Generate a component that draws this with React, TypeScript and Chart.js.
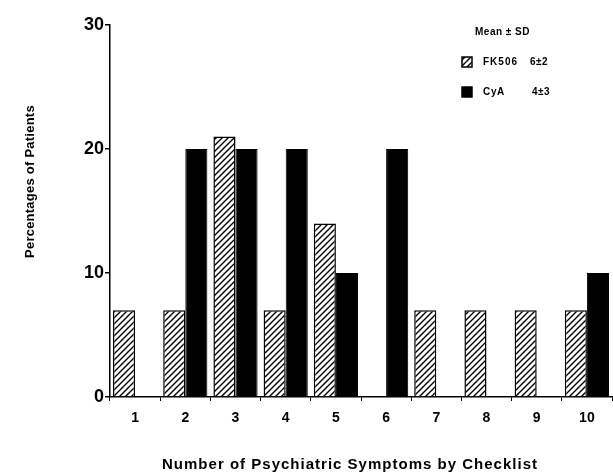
import React, { useEffect, useRef } from 'react';
import { Chart, registerables } from 'chart.js';

Chart.register(...registerables);

const categories = ['1', '2', '3', '4', '5', '6', '7', '8', '9', '10'];
const fk506Values = [7, 7, 21, 7, 14, 0, 7, 7, 7, 7];
const cyaValues = [0, 20, 20, 20, 10, 20, 0, 0, 0, 10];
const yTickValues = [0, 10, 20, 30];
const seriesNames = ['FK506', 'CyA'];
const seriesStats = ['6±2', '4±3'];
const legendHeader = 'Mean ± SD';
const xTitle = 'Number of Psychiatric Symptoms by Checklist';
const yTitle = 'Percentages of Patients';

const FONT = '"Liberation Sans", Arial, Helvetica, sans-serif';

function makeHatch(): CanvasPattern | string {
  const s = 6;
  const c = document.createElement('canvas');
  c.width = s;
  c.height = s;
  const g = c.getContext('2d');
  if (!g) return '#fff';
  g.fillStyle = '#fff';
  g.fillRect(0, 0, s, s);
  g.strokeStyle = '#000';
  g.lineWidth = 1.4;
  g.beginPath();
  g.moveTo(0, s);
  g.lineTo(s, 0);
  g.moveTo(-1, 1);
  g.lineTo(1, -1);
  g.moveTo(s - 1, s + 1);
  g.lineTo(s + 1, s - 1);
  g.stroke();
  return g.createPattern(c, 'repeat') || '#fff';
}

function drawFit(ctx: CanvasRenderingContext2D, text: string, x: number, y: number, width: number) {
  (ctx as any).letterSpacing = '0px';
  const w = ctx.measureText(text).width;
  const sp = (width - w) / Math.max(1, text.length);
  (ctx as any).letterSpacing = sp.toFixed(2) + 'px';
  ctx.textAlign = 'left';
  ctx.fillText(text, x, y);
  (ctx as any).letterSpacing = '0px';
}

export default function App() {
  const ref = useRef<HTMLCanvasElement | null>(null);

  useEffect(() => {
    document.body.style.margin = '0';
    const canvas = ref.current;
    if (!canvas) return;
    const hatch = makeHatch();

    const annotations = {
      id: 'annotations',
      afterDraw(chart: any) {
        const ctx = chart.ctx as CanvasRenderingContext2D;
        ctx.save();
        ctx.fillStyle = '#000';
        ctx.textBaseline = 'middle';
        // x title
        ctx.font = `bold 15px ${FONT}`;
        drawFit(ctx, xTitle, 162, 465, 376);
        // y title
        ctx.save();
        ctx.translate(30, 258);
        ctx.rotate(-Math.PI / 2);
        ctx.font = `bold 13px ${FONT}`;
        drawFit(ctx, yTitle, 0, 0, 153);
        ctx.restore();
        // legend
        ctx.font = `bold 10px ${FONT}`;
        drawFit(ctx, legendHeader, 475, 32, 55);
        const rows = [62, 92];
        const fills = [hatch, '#000'];
        const nameW = [35, 22];
        for (let i = 0; i < seriesNames.length; i++) {
          const y = rows[i];
          ctx.fillStyle = fills[i] as any;
          ctx.fillRect(462, y - 5, 10, 10);
          ctx.strokeStyle = '#000';
          ctx.lineWidth = 1.5;
          ctx.strokeRect(462, y - 5, 10, 10);
          ctx.fillStyle = '#000';
          ctx.font = `bold 10px ${FONT}`;
          drawFit(ctx, seriesNames[i], 483, y, nameW[i]);
          drawFit(ctx, seriesStats[i], 530 + i * 2, y, 18);
        }
        ctx.restore();
      },
    };

    const chart = new Chart(canvas, {
      type: 'bar',
      data: {
        labels: categories,
        datasets: [
          {
            label: seriesNames[0],
            data: fk506Values,
            backgroundColor: hatch as any,
            borderColor: '#000',
            borderWidth: 1.5,
            categoryPercentage: 0.88,
            barPercentage: 1,
          },
          {
            label: seriesNames[1],
            data: cyaValues,
            backgroundColor: '#000',
            borderColor: '#000',
            borderWidth: 1,
            categoryPercentage: 0.88,
            barPercentage: 1,
          },
        ],
      },
      options: {
        responsive: false,
        animation: false,
        events: [],
        layout: { padding: { left: 0, top: 25, right: 1, bottom: 0 } },
        plugins: {
          legend: { display: false },
          tooltip: { enabled: false },
          title: { display: false },
        },
        scales: {
          x: {
            grid: {
              offset: true,
              drawOnChartArea: false,
              drawTicks: true,
              tickLength: 4,
              color: '#000',
              lineWidth: 1,
            },
            border: { display: true, color: '#000', width: 1.5 },
            ticks: {
              color: '#000',
              padding: 9,
              font: { family: FONT, size: 14, weight: 'bold' },
              maxRotation: 0,
            },
            afterFit(scale: any) {
              scale.height = 79;
            },
          },
          y: {
            min: 0,
            max: 30,
            afterBuildTicks(scale: any) {
              scale.ticks = yTickValues.map((v) => ({ value: v }));
            },
            grid: {
              drawOnChartArea: false,
              drawTicks: true,
              tickLength: 5,
              color: '#000',
              lineWidth: 1.5,
            },
            border: { display: true, color: '#000', width: 1.5 },
            ticks: {
              color: '#000',
              padding: 1,
              font: { family: FONT, size: 18, weight: 'bold' },
            },
            afterFit(scale: any) {
              scale.width = 110;
            },
          },
        },
      },
      plugins: [annotations],
    });

    return () => chart.destroy();
  }, []);

  return (
    <div style={{ width: 613, height: 476 }}>
      <canvas ref={ref} width={613} height={476} />
    </div>
  );
}
